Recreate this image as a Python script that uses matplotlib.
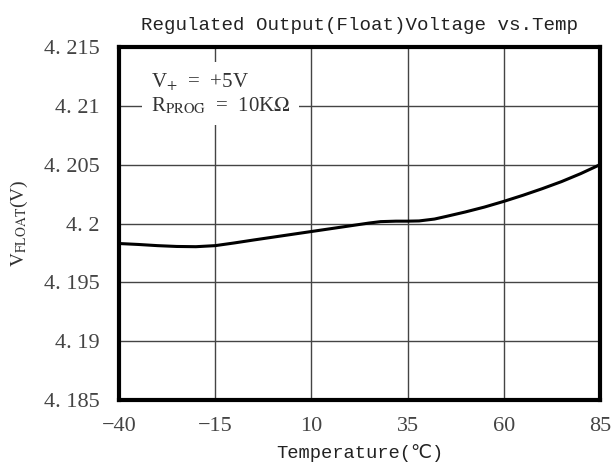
import matplotlib
matplotlib.use("Agg")
import matplotlib.pyplot as plt

plt.rcParams["mathtext.fontset"] = "stix"

# curve
temps = [-40, -35, -30, -25, -20, -15, -10, -5, 0, 5, 10, 15, 20, 25, 28, 32, 35, 38,
         42, 45, 50, 55, 60, 65, 70, 75, 80, 85]
vfloat = [4.19830, 4.19822, 4.19812, 4.19805, 4.19803, 4.19812, 4.19835, 4.19860,
          4.19884, 4.19908, 4.19932, 4.19956, 4.19980, 4.20004, 4.20016, 4.20020,
          4.20020, 4.20022, 4.20038, 4.20060, 4.20098, 4.20140, 4.20188, 4.20240,
          4.20296, 4.20356, 4.20424, 4.20500]

xticks = [-40, -15, 10, 35, 60, 85]
xticklabels = ["\u221240", "\u221215", "10", "35", "60", "85"]
yticks = [4.185, 4.19, 4.195, 4.2, 4.205, 4.21, 4.215]
yticklabels = ["4. 185", "4. 19", "4. 195", "4. 2", "4. 205", "4. 21", "4. 215"]

mono = ["Liberation Mono", "DejaVu Sans Mono", "DejaVu Sans"]
serif = ["Liberation Serif", "DejaVu Serif"]

fig = plt.figure(figsize=(6.15, 4.73), dpi=100)
ax = fig.add_axes([0.1935, 0.1543, 0.782, 0.7463])

ax.plot(temps, vfloat, color="black", lw=2.2, zorder=3, solid_joinstyle="round")

ax.set_xlim(-40, 85)
ax.set_ylim(4.185, 4.215)
ax.set_xticks(xticks)
ax.set_xticklabels(xticklabels, family=serif, fontsize=16, color="#444444")
ax.set_yticks(yticks)
ax.set_yticklabels(yticklabels, family=serif, fontsize=16, color="#444444")
ax.tick_params(axis="y", length=0, pad=14)
ax.tick_params(axis="x", length=0, pad=12)
ax.grid(True, color="#444444", lw=1)
for s in ax.spines.values():
    s.set_linewidth(3)
    s.set_color("black")

ax.set_title("Regulated Output(Float)Voltage vs.Temp", family=mono, fontsize=13.8,
             color="#222222", pad=12)
ax.set_xlabel("Temperature(\u2103)", family=mono, fontsize=13.5, color="#222222", labelpad=6)
ax.set_ylabel(r"$\mathrm{V_{FLOAT}}$(V)", family=serif, fontsize=14, color="#333333", labelpad=10)

ax.text(-31.8, 4.2130, "V$_{+}$  =  +5V" + "\n" + r"R$_{\mathrm{PROG}}$  =  10K$\Omega$",
        family=serif, fontsize=15, color="#333333", va="top", linespacing=1.2,
        bbox=dict(facecolor="white", edgecolor="none", pad=6), zorder=4)

fig.savefig("out.png", dpi=100)
